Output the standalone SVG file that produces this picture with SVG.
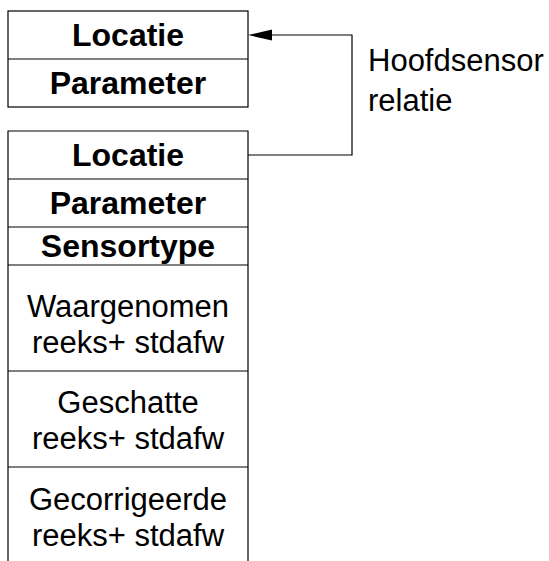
<svg xmlns="http://www.w3.org/2000/svg" width="549" height="561" viewBox="0 0 549 561">
<style>
.box{fill:#fff;stroke:#000;stroke-width:1.2}
.div{stroke:#000;stroke-width:1.2}
.b{font-family:"Liberation Sans",Arial,sans-serif;font-weight:bold;font-size:32px;text-anchor:middle;fill:#000}
.r{font-family:"Liberation Sans",Arial,sans-serif;font-size:31px;text-anchor:middle;fill:#000}
.lbl{font-family:"Liberation Sans",Arial,sans-serif;font-size:31px;fill:#000}
.conn{fill:none;stroke:#000;stroke-width:1.2}
</style>
<g id="hoofdsensor">
<rect class="box" x="8" y="11" width="240" height="96"/>
<line class="div" x1="8" y1="59" x2="248" y2="59"/>
<text class="b" x="128" y="46">Locatie</text>
<text class="b" x="128" y="94">Parameter</text>
</g>
<g id="sensor">
<path class="box" d="M8,562 L8,131 L248,131 L248,562"/>
<line class="div" x1="8" y1="179" x2="248" y2="179"/>
<line class="div" x1="8" y1="227" x2="248" y2="227"/>
<line class="div" x1="8" y1="265" x2="248" y2="265"/>
<line class="div" x1="8" y1="371" x2="248" y2="371"/>
<line class="div" x1="8" y1="467" x2="248" y2="467"/>
<text class="b" x="128" y="166">Locatie</text>
<text class="b" x="128" y="214">Parameter</text>
<text class="b" x="128" y="257">Sensortype</text>
<text class="r" x="128" y="317">Waargenomen</text>
<text class="r" x="128" y="353">reeks+ stdafw</text>
<text class="r" x="128" y="413">Geschatte</text>
<text class="r" x="128" y="449">reeks+ stdafw</text>
<text class="r" x="128" y="510">Gecorrigeerde</text>
<text class="r" x="128" y="546">reeks+ stdafw</text>
</g>
<g id="connectors">
<path class="conn" d="M248,155 L352,155 L352,35 L272,35"/>
<path d="M248,35 L272,29.5 L272,40.5 Z" fill="#000"/>
<text class="lbl" x="368" y="71">Hoofdsensor</text>
<text class="lbl" x="368" y="111">relatie</text>
</g>
</svg>
